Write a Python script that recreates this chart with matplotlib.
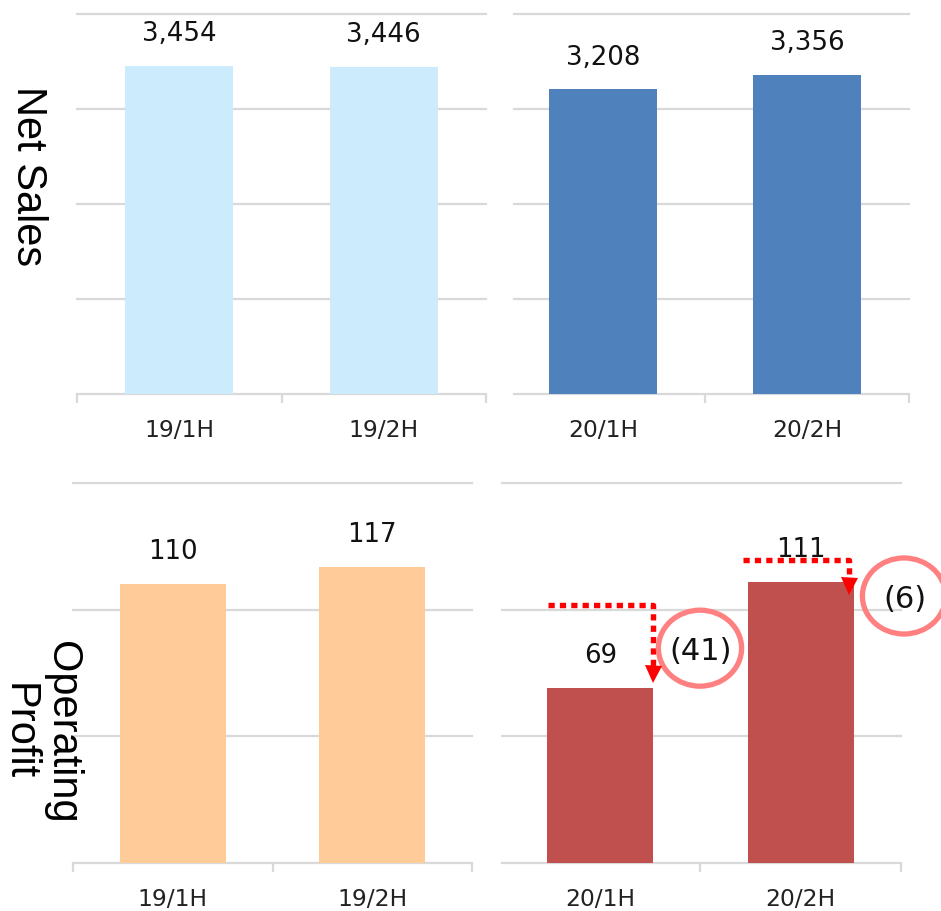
import matplotlib
matplotlib.use("Agg")
import matplotlib.pyplot as plt
from matplotlib.patches import Ellipse
import matplotlib.transforms as mtransforms

# ---------------- data ----------------
cats_19 = ["19/1H", "19/2H"]
cats_20 = ["20/1H", "20/2H"]
sales_19 = [3454, 3446]
sales_20 = [3208, 3356]
op_19 = [110, 117]
op_20 = [69, 111]
sales_grid = [0, 1000, 2000, 3000, 4000]
op_grid = [0, 50, 100, 150]

# ---------------- style ----------------
W, H = 941, 911
fig = plt.figure(figsize=(W / 100, H / 100), dpi=100)
GRID = "#D9D9D9"
NUMFONT = "DejaVu Sans"
LABFONT = "Liberation Sans"


def add_ax(l, r, t, b):
    return fig.add_axes([l / W, 1 - b / H, (r - l) / W, (b - t) / H])


def setup(ax, cats, vals, color, grid, xlim, ticks):
    ax.set_xlim(*xlim)
    ax.set_ylim(grid[0], grid[-1])
    for s in ax.spines.values():
        s.set_visible(False)
    ax.set_yticks([])
    for g in grid:
        ax.axhline(g, color=GRID, lw=1.6, zorder=1, clip_on=False)
    ax.set_xticks(ticks)
    ax.tick_params(axis="x", length=6.5, width=1.6, color=GRID,
                   labelbottom=False, direction="out")
    xs = list(range(len(cats)))
    ax.bar(xs, vals, width=0.53, color=color, zorder=2)
    for x, v, c in zip(xs, vals, cats):
        ax.annotate(f"{v:,}", xy=(x, v), xytext=(0, 23), textcoords="offset points",
                    ha="center", va="center", fontsize=18.7, family=NUMFONT,
                    color="#111111", zorder=5)
        ax.annotate(c, xy=(x, 0), xytext=(0, -26), textcoords="offset points",
                    ha="center", va="center", fontsize=16.8, family=NUMFONT,
                    color="#222222", annotation_clip=False)


ax_tl = add_ax(77, 486, 14.3, 394)
ax_tr = add_ax(514, 909, 14.3, 394)
ax_bl = add_ax(73, 472, 483, 863)
ax_br = add_ax(502, 901, 483, 863)

setup(ax_tl, cats_19, sales_19, "#CCEBFD", sales_grid, (-0.5, 1.5), [-0.5, 0.5, 1.5])
setup(ax_tr, cats_20, sales_20, "#4F81BD", sales_grid, (-0.436, 1.5), [0.5, 1.5])
setup(ax_bl, cats_19, op_19, "#FFCC99", op_grid, (-0.5, 1.5), [-0.5, 0.5, 1.5])
setup(ax_br, cats_20, op_20, "#C0504D", op_grid, (-0.49, 1.5), [0.5, 1.5])

# row labels
fig.text(28 / W, 1 - 176 / H, "Net Sales", rotation=270, ha="center", va="center",
         fontsize=30, family=LABFONT, color="black")
fig.text(40 / W, 1 - 732 / H, "Operating\nProfit", rotation=270, ha="center",
         va="center", multialignment="center", linespacing=1.1,
         fontsize=30, family=LABFONT, color="black")

# ---------------- change annotations (bottom-right) ----------------
# (horizontal start x, vertical x, horizontal level, arrow tip level) in data units
arrows = [(-0.2625, 0.261, 102, 71.4), (0.7125, 1.2425, 119.6, 105.8)]
circles = [(0.4975, 84.8), (1.515, 105.4)]
diffs = [b - a for a, b in zip(op_19, op_20)]
head_px = 17
for (x0, xv, ylev, ytip) in arrows:
    tip_disp = ax_br.transData.transform((xv, ytip))
    base_data = ax_br.transData.inverted().transform((tip_disp[0], tip_disp[1] + head_px - 2))
    ax_br.plot([x0, xv, xv], [ylev, ylev, base_data[1]], color="#FF0000", lw=3.9,
               linestyle=(0, (1.15, 0.95)), solid_capstyle="butt",
               dash_capstyle="butt", zorder=6, clip_on=False)
    off = mtransforms.ScaledTranslation(0, head_px / 2 / 100, fig.dpi_scale_trans)
    ax_br.plot([xv], [ytip], marker="v", markersize=head_px * 0.72,
               color="#FF0000", markeredgewidth=0, zorder=7, clip_on=False,
               transform=ax_br.transData + off)

for (cx, cy), d in zip(circles, diffs):
    e = Ellipse((cx, cy), width=0.415, height=30, fill=False, edgecolor="#FF8080",
                lw=3.8, zorder=6, clip_on=False)
    ax_br.add_patch(e)
    ax_br.text(cx + 0.005, cy - 1.2, f"({abs(d)})", ha="center", va="center",
               fontsize=22, family=NUMFONT, color="#111111", zorder=7, clip_on=False)

fig.savefig("out.png", dpi=100)
